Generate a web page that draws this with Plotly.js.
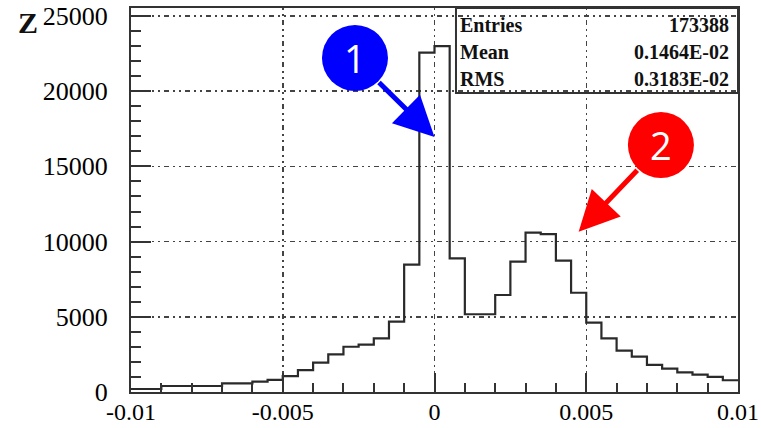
<!DOCTYPE html>
<html>
<head>
<meta charset="utf-8">
<script src="https://cdn.plot.ly/plotly-3.0.1.min.js"></script>
<style>html,body{margin:0;padding:0;background:#fff;}#chart{width:761px;height:428px;}</style>
</head>
<body>
<div id="chart"></div>
<script>
// Bin low edges (and final upper edge) of the histogram
const binEdges = [-0.01,-0.0095,-0.009,-0.0085,-0.008,-0.0075,-0.007,-0.0065,-0.006,-0.0055,
  -0.005,-0.0045,-0.004,-0.0035,-0.003,-0.0025,-0.002,-0.0015,-0.001,-0.0005,
  0,0.0005,0.001,0.0015,0.002,0.0025,0.003,0.0035,0.004,0.0045,
  0.005,0.0055,0.006,0.0065,0.007,0.0075,0.008,0.0085,0.009,0.0095,0.01];
// Bin contents
const counts = [200,200,400,400,400,400,580,580,690,800,
  1060,1460,1950,2500,3010,3150,3570,4680,8470,22560,
  23000,8890,5170,5170,6450,8670,10590,10500,8730,6600,
  4610,3570,2750,2350,1800,1550,1310,1150,1000,780];
const xTickVals = [-0.01,-0.005,0,0.005,0.01];
const xTickText = ["-0.01","-0.005","0","0.005","0.01"];
const yTickVals = [0,5000,10000,15000,20000,25000];
const yTickText = ["0","5000","10000","15000","20000","25000"];
const statLabels = ["Entries","Mean","RMS"];
const statValues = ["173388","0.1464E-02","0.3183E-02"];
const markerLabels = ["1","2"];
const markerColors = ["#0000ff","#ff0000"];
const markerTips = [[0, 16950],[0.00475, 10660]];

const stepY = counts.concat([counts[counts.length-1]]);

const trace = {
  x: binEdges, y: stepY, type: 'scatter', mode: 'lines',
  line: {shape: 'hv', color: '#2a2a2a', width: 2.2},
  hoverinfo: 'skip'
};

const gridDash = '2px,4px,2px,4px,5px,4px';
const tickFont = {family: 'Liberation Serif, Times New Roman, serif', size: 26, color: '#000'};
const xTickFont = {family: 'Liberation Serif, Times New Roman, serif', size: 24, color: '#000'};

const statFont = {family: 'Liberation Serif, Times New Roman, serif', size: 20, color: '#111'};
const rowY = [0.955, 0.886, 0.815];
const annotations = [];
statLabels.forEach((s,i)=>{
  annotations.push({xref:'paper', yref:'paper', x:0.539, y:rowY[i], xanchor:'left', yanchor:'middle',
    text:'<b>'+s+'</b>', showarrow:false, font:statFont});
  annotations.push({xref:'paper', yref:'paper', x:0.989, y:rowY[i], xanchor:'right', yanchor:'middle',
    text:'<b>'+statValues[i]+'</b>', showarrow:false, font:statFont});
});
// arrows
const arrowOffsets = [[-57,-56],[60,-63]];
markerTips.forEach((t,i)=>{
  annotations.push({x:t[0], y:t[1], xref:'x', yref:'y', text:'', showarrow:true,
    ax:arrowOffsets[i][0], ay:arrowOffsets[i][1], arrowcolor:markerColors[i],
    arrowwidth:5, arrowhead:2, arrowsize:1.6});
});
const circleCenters = [[0.369,0.870],[0.873,0.643]];
circleCenters.forEach((c,i)=>{
  annotations.push({xref:'paper', yref:'paper', x:c[0], y:c[1], xanchor:'center', yanchor:'middle',
    text:markerLabels[i], showarrow:false,
    font:{family:'Open Sans, Liberation Sans, sans-serif', size:38, color:'#ffffff'}});
});
annotations.push({xref:'paper', yref:'paper', x:-0.170, y:0.962, xanchor:'center', yanchor:'middle',
  text:'<b>Z</b>', showarrow:false, font:{family:'Liberation Serif, serif', size:30, color:'#111'}});

const shapes = [
  {type:'rect', xref:'paper', yref:'paper', x0:0.5354, x1:1, y0:0.7786, y1:1,
   line:{color:'#333', width:2}, fillcolor:'rgba(0,0,0,0)'}
];
circleCenters.forEach((c,i)=>{
  shapes.push({type:'circle', xref:'paper', yref:'paper', xsizemode:'pixel', ysizemode:'pixel',
    xanchor:c[0], yanchor:c[1], x0:-33, x1:33, y0:-33, y1:33,
    fillcolor:markerColors[i], line:{width:0}, layer:'above'});
});

const layout = {
  width: 761, height: 428,
  margin: {l:131, r:23, t:8, b:36, pad:0},
  paper_bgcolor:'#fff', plot_bgcolor:'#fff',
  showlegend:false,
  xaxis: {
    range:[-0.01,0.01], tickvals:xTickVals, ticktext:xTickText,
    ticks:'inside', ticklen:19, tickwidth:2, tickcolor:'#333',
    showline:true, linecolor:'#333', linewidth:2, mirror:true,
    showgrid:true, gridcolor:'#444', gridwidth:1.5, griddash:gridDash,
    zeroline:false, tickfont:xTickFont, ticklabelstandoff:-3,
    minor:{dtick:0.001, tick0:0, ticks:'inside', ticklen:9, tickwidth:2, tickcolor:'#333', showgrid:false}
  },
  yaxis: {
    range:[0,25530], tickvals:yTickVals, ticktext:yTickText,
    ticks:'inside', ticklen:20, tickwidth:2, tickcolor:'#333',
    showline:true, linecolor:'#333', linewidth:2, mirror:true,
    showgrid:true, gridcolor:'#444', gridwidth:1.5, griddash:gridDash,
    zeroline:false, tickfont:tickFont, ticklabelstandoff:16,
    minor:{dtick:1000, tick0:0, ticks:'inside', ticklen:10, tickwidth:2, tickcolor:'#333', showgrid:false}
  },
  annotations: annotations,
  shapes: shapes
};

Plotly.newPlot('chart', [trace], layout, {displayModeBar:false, staticPlot:true});
</script>
</body>
</html>
